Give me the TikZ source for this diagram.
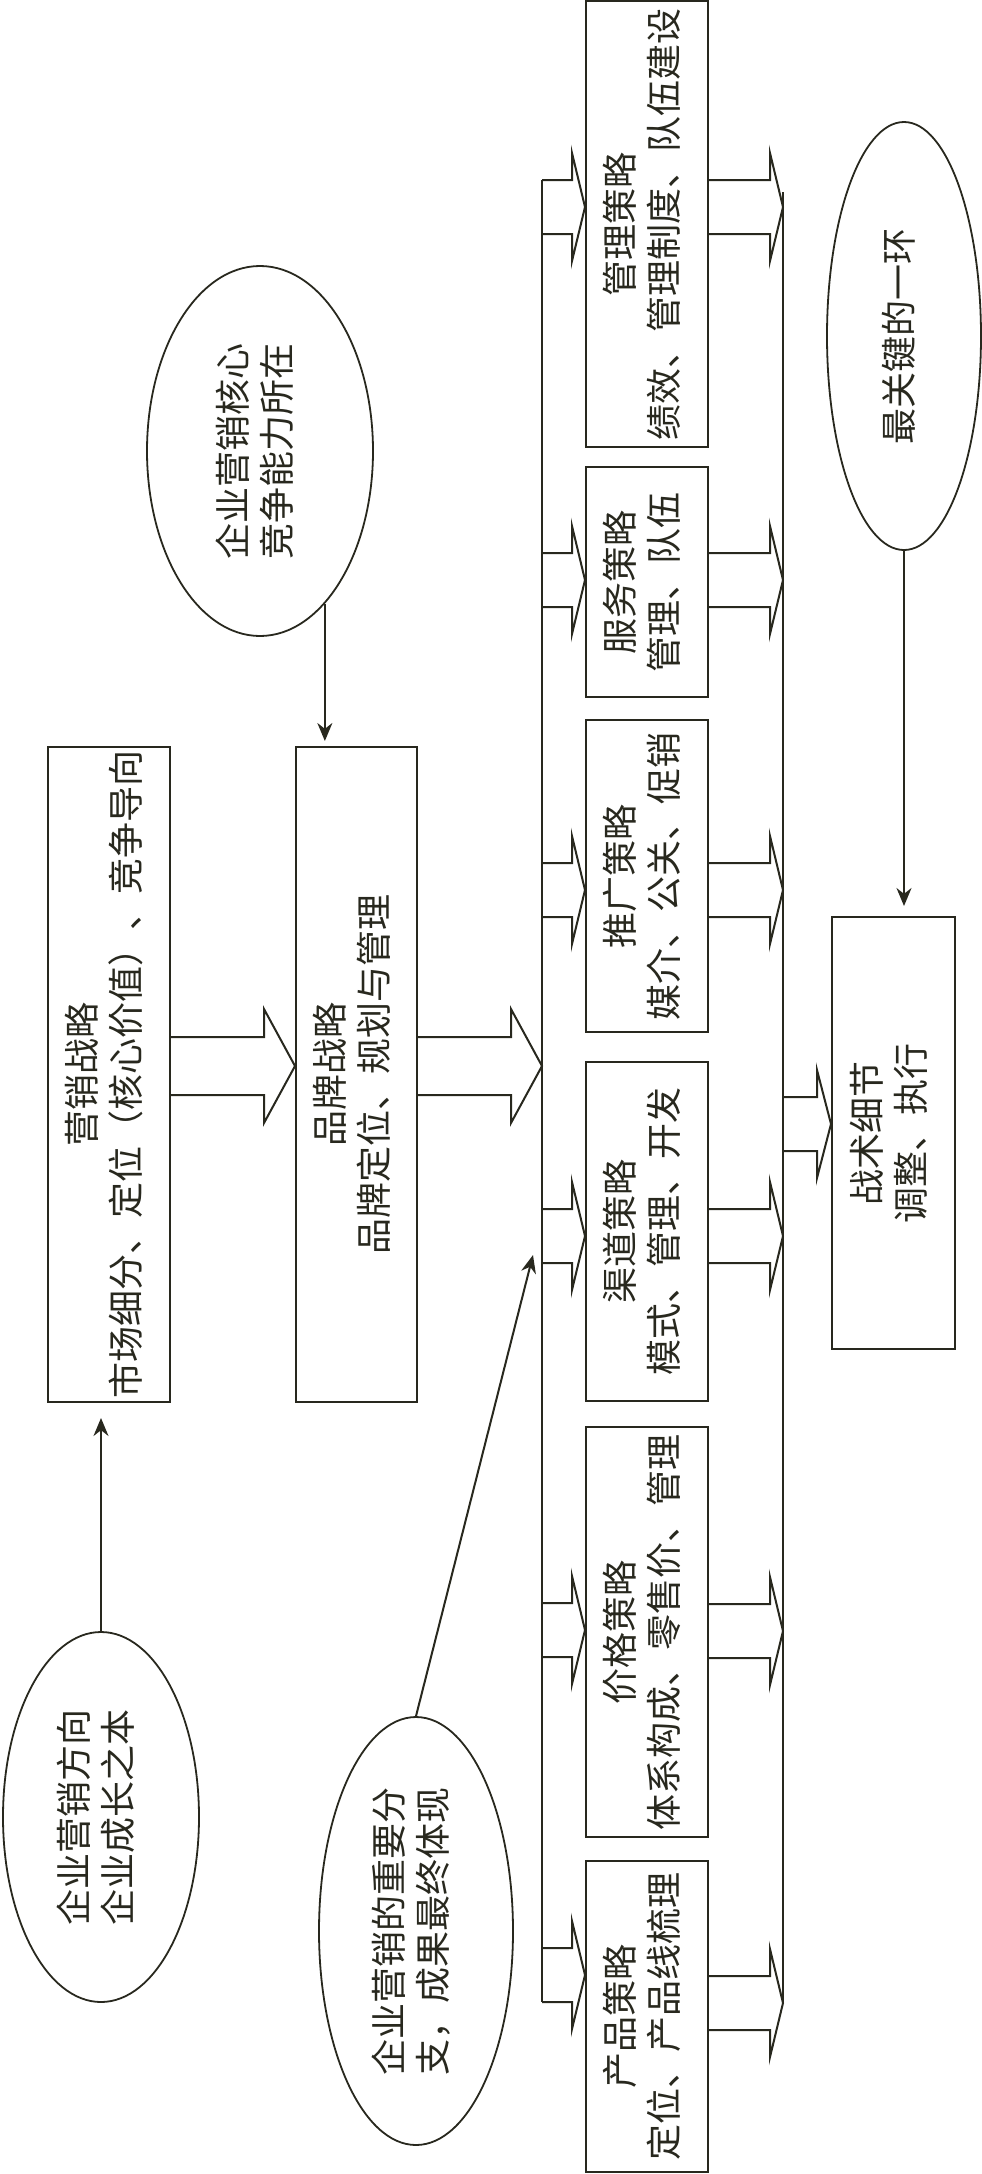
\documentclass[tikz,border=0pt]{standalone}
\usepackage{fontspec}
\newfontfamily\cjk{Noto Sans CJK SC}
\usepackage{graphicx}
\usepackage{xcolor}
\usepackage{tikz}
\usetikzlibrary{arrows.meta,shapes.geometric,calc}

\definecolor{ink}{RGB}{40,40,30}
\newcommand\uptext[1]{\rotatebox{90}{\begin{tabular}{@{}c@{}}#1\end{tabular}}}
% hollow block arrow: start, tip, half shaft, half head, head length
\newcommand\fatarrow[5]{%
  \draw[hollow] let \p1=#1, \p2=#2 in
    (\x1,\y2+#3pt) -- (\x2-#5pt,\y2+#3pt) -- (\x2-#5pt,\y2+#4pt) -- (\x2,\y2)
    -- (\x2-#5pt,\y2-#4pt) -- (\x2-#5pt,\y2-#3pt) -- (\x1,\y2-#3pt);}

\begin{document}
\begin{tikzpicture}[
  x=1pt, y=-1pt,
  >={Stealth[length=18pt,width=15pt]},
  every node/.style={font=\cjk\fontsize{36}{44}\selectfont, text=ink},
  box/.style={rectangle, draw=ink, line width=2pt, inner sep=0pt},
  oval/.style={ellipse, draw=ink, line width=1.8pt, inner sep=0pt},
  hollow/.style={draw=ink, line width=2pt, line join=miter},
  line/.style={->, draw=ink, line width=2pt}
]
\useasboundingbox (0,0) rectangle (982,2174);

% Strategy (left)
\node[box, minimum width=122pt, minimum height=655pt] (mkt) at (109,1074.5) {\uptext{营销战略\\市场细分、定位（核心价值）、竞争导向}};
\node[box, minimum width=121pt, minimum height=655pt] (brand) at (356.5,1074.5) {\uptext{品牌战略\\品牌定位、规划与管理}};

% Notes
\node[oval, minimum width=196pt, minimum height=370pt] (dir) at (101,1817) {\uptext{企业营销方向\\企业成长之本}};
\node[oval, minimum width=226pt, minimum height=370pt] (core) at (260,451) {\uptext{企业营销核心\\竞争能力所在}};
\node[oval, minimum width=154pt, minimum height=428pt] (key) at (904,336) {\uptext{最关键的一环}};
\node[oval, minimum width=194pt, minimum height=428pt] (branch) at (416,1931) {\uptext{企业营销的重要分\\支，成果最终体现}};

% Tactics column
\node[box, minimum width=122pt, minimum height=446pt] (mgmt) at (647,224) {\uptext{管理策略\\绩效、管理制度、队伍建设}};
\node[box, minimum width=122pt, minimum height=230pt] (serv) at (647,582) {\uptext{服务策略\\管理、队伍}};
\node[box, minimum width=122pt, minimum height=312pt] (promo) at (647,876) {\uptext{推广策略\\媒介、公关、促销}};
\node[box, minimum width=122pt, minimum height=339pt] (chan) at (647,1231.5) {\uptext{渠道策略\\模式、管理、开发}};
\node[box, minimum width=122pt, minimum height=410pt] (price) at (647,1632) {\uptext{价格策略\\体系构成、零售价、管理}};
\node[box, minimum width=122pt, minimum height=311pt] (prod) at (647,2016.5) {\uptext{产品策略\\定位、产品线梳理}};
\node[box, minimum width=123pt, minimum height=432pt] (tact) at (893.5,1133) {\uptext{战术细节\\调整、执行}};

% Buses
\coordinate (lbusT) at (542,180);
\coordinate (lbusB) at (542,2002);
\coordinate (rbusT) at (783,192);
\coordinate (rbusB) at (783,2003);
\coordinate (hit) at (533,1255);
\draw[hollow] (lbusT) -- (lbusB);
\draw[hollow] (rbusT) -- (rbusB);

% Block arrows
\fatarrow{(mkt.east)}{(brand.west |- 0,1066)}{29}{57}{31}
\fatarrow{(brand.east)}{(lbusT |- 0,1066)}{29}{57}{31}
\fatarrow{(lbusT)}{(mgmt.west |- 0,207)}{27}{54}{13}
\fatarrow{(lbusT)}{(serv.west |- 0,580)}{27}{54}{13}
\fatarrow{(lbusT)}{(promo.west |- 0,890)}{27}{54}{13}
\fatarrow{(lbusT)}{(chan.west |- 0,1236)}{27}{54}{13}
\fatarrow{(lbusT)}{(price.west |- 0,1630)}{27}{54}{13}
\fatarrow{(lbusT)}{(prod.west |- 0,1975)}{27}{54}{13}
\fatarrow{(mgmt.east)}{(rbusT |- 0,207)}{27}{54}{13}
\fatarrow{(serv.east)}{(rbusT |- 0,580)}{27}{54}{13}
\fatarrow{(promo.east)}{(rbusT |- 0,890)}{27}{54}{13}
\fatarrow{(chan.east)}{(rbusT |- 0,1236)}{27}{54}{13}
\fatarrow{(price.east)}{(rbusT |- 0,1631)}{27}{54}{13}
\fatarrow{(prod.east)}{(rbusT |- 0,2003)}{27}{54}{13}
\fatarrow{(rbusT)}{(tact.west |- 0,1124)}{27}{54}{14}

% Thin arrows
\draw[line, shorten >=15pt] (dir.north) -- (dir.north |- mkt.south);
\draw[line, shorten >=5pt] (core.-67) -- (core.-67 |- brand.north);
\draw[line, shorten >=10pt] (key.south) -- (key.south |- tact.north);
\draw[line] (branch.north) -- (hit);
\end{tikzpicture}
\end{document}
